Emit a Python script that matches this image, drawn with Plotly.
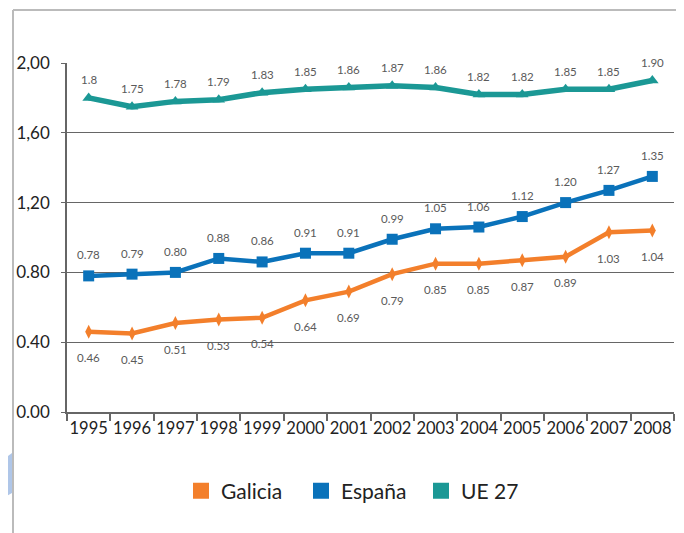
import plotly.graph_objects as go

years = ["1995", "1996", "1997", "1998", "1999", "2000", "2001",
         "2002", "2003", "2004", "2005", "2006", "2007", "2008"]
galicia = [0.46, 0.45, 0.51, 0.53, 0.54, 0.64, 0.69, 0.79, 0.85, 0.85, 0.87, 0.89, 1.03, 1.04]
espana = [0.78, 0.79, 0.80, 0.88, 0.86, 0.91, 0.91, 0.99, 1.05, 1.06, 1.12, 1.20, 1.27, 1.35]
ue27 = [1.80, 1.75, 1.78, 1.79, 1.83, 1.85, 1.86, 1.87, 1.86, 1.82, 1.82, 1.85, 1.85, 1.90]
ue27_labels = ["1.8", "1.75", "1.78", "1.79", "1.83", "1.85", "1.86",
               "1.87", "1.86", "1.82", "1.82", "1.85", "1.85", "1.90"]
y_tickvals = [0.0, 0.4, 0.8, 1.2, 1.6, 2.0]
y_ticktext = ["0.00", "0.40", "0.80", "1,20", "1,60", "2,00"]

C_GAL = "#F37F2B"
C_ESP = "#0A72BA"
C_UE = "#1B9895"
FONT = "Lato, Roboto, sans-serif"

fig = go.Figure()
fig.add_trace(go.Scatter(x=years, y=galicia, mode="lines+markers", showlegend=False,
                         line=dict(color=C_GAL, width=4.5),
                         marker=dict(symbol="diamond-tall", size=10, color=C_GAL)))
fig.add_trace(go.Scatter(x=years, y=espana, mode="lines+markers", showlegend=False,
                         line=dict(color=C_ESP, width=4.5),
                         marker=dict(symbol="square", size=11, color=C_ESP)))
fig.add_trace(go.Scatter(x=years, y=ue27, mode="lines+markers", showlegend=False,
                         line=dict(color=C_UE, width=5.5),
                         marker=dict(symbol="triangle-up", size=11, color=C_UE)))

# legend-only entries (square swatches)
for name, col in [("Galicia", C_GAL), ("España", C_ESP), ("UE 27", C_UE)]:
    fig.add_trace(go.Scatter(x=[None], y=[None], mode="markers", name=name,
                             marker=dict(symbol="square", size=16, color=col)))

annots = []
lab_font = dict(family=FONT, size=11.5, color="#5a5a5a")
for i, v in enumerate(galicia):
    annots.append(dict(x=i, y=v, text=f"{v:.2f}", showarrow=False, yshift=-26, font=lab_font))
for i, v in enumerate(espana):
    annots.append(dict(x=i, y=v, text=f"{v:.2f}", showarrow=False, yshift=21, font=lab_font))
for i, (v, t) in enumerate(zip(ue27, ue27_labels)):
    annots.append(dict(x=i, y=v, text=t, showarrow=False, yshift=18, font=lab_font))

# page body adds an 8px offset; target screen coordinates are compensated
OFF = 8
W, H = 684, 533
L = 67 - OFF
T = 63 - OFF
R = W - (674 - OFF)
B = H - (412 - OFF)
pw, ph = W - L - R, H - T - B

def px(xp):
    return (xp - OFF - L) / pw

def py(yp):
    return (H - B - (yp - OFF)) / ph

shapes = [
    dict(type="line", xref="paper", yref="paper", x0=px(13), x1=px(692), y0=py(10), y1=py(10),
         line=dict(color="#BBBBBB", width=2)),
    dict(type="line", xref="paper", yref="paper", x0=px(13), x1=px(13), y0=py(10), y1=py(541),
         line=dict(color="#BBBBBB", width=2)),
    dict(type="path", xref="paper", yref="paper",
         path=(f"M {px(0)} {py(462)} L {px(12)} {py(453)} "
               f"L {px(12)} {py(493)} L {px(0)} {py(500)} Z"),
         fillcolor="#AFC6E8", line=dict(width=0)),
]

fig.update_layout(
    width=W, height=H,
    margin=dict(l=L, r=R, t=T, b=B, autoexpand=False),
    paper_bgcolor="white", plot_bgcolor="white",
    font=dict(family=FONT, color="#222222"),
    annotations=annots,
    shapes=shapes,
    legend=dict(orientation="h", x=px(181), xanchor="left", y=py(491), yanchor="middle",
                font=dict(family=FONT, size=21, color="#222222"),
                entrywidth=75, entrywidthmode="pixels",
                itemsizing="trace", traceorder="normal"),
)
fig.update_xaxes(type="category", range=[-0.5, 13.5], showgrid=False,
                 showline=True, linecolor="#666666", linewidth=2,
                 ticks="outside", tickson="boundaries", ticklen=7, tickcolor="#666666",
                 tickwidth=1.5, tickangle=0, automargin=False,
                 tickfont=dict(family=FONT, size=16.5, color="#222222"))
fig.update_yaxes(range=[0, 2.0], tickvals=y_tickvals, ticktext=y_ticktext,
                 showgrid=True, gridcolor="#666666", gridwidth=1,
                 showline=True, linecolor="#666666", linewidth=1.5,
                 ticks="outside", ticklen=4, tickcolor="#666666",
                 zeroline=False, automargin=False, ticklabelstandoff=8,
                 tickfont=dict(family=FONT, size=17, color="#222222"))

fig.write_html("out.html")
